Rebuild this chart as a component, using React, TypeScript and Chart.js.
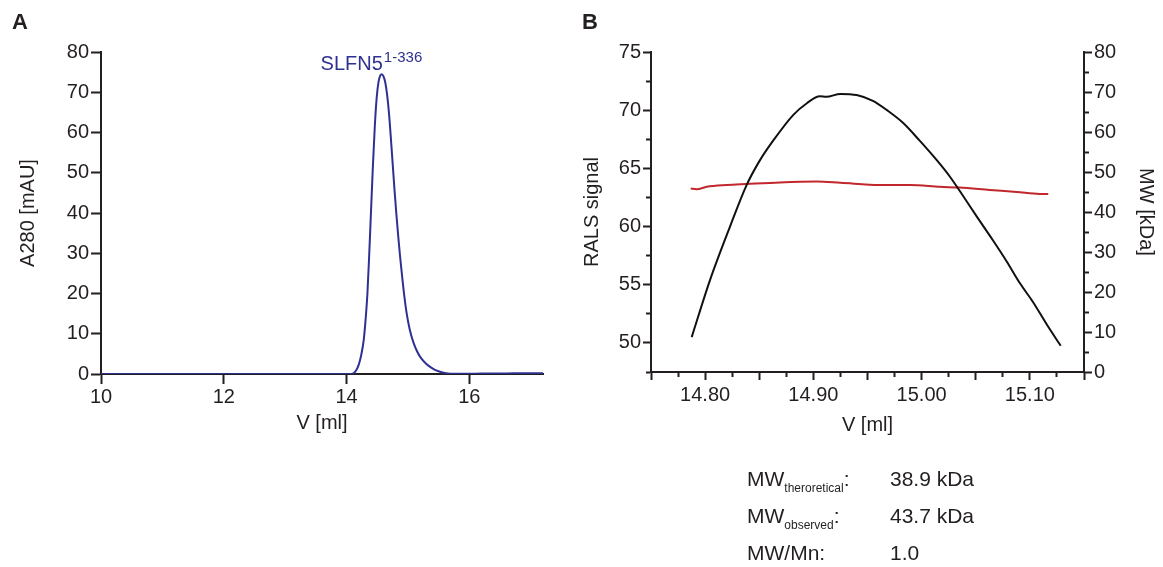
import React, { useEffect, useRef } from 'react';
import { Chart, registerables } from 'chart.js';

Chart.register(...registerables);

// ---------- Panel A: SEC elution profile ----------
const A_VOLUME = [
  10, 11, 12, 13, 13.8, 14.05, 14.1, 14.16, 14.2, 14.24, 14.28, 14.31, 14.34, 14.37, 14.4, 14.43,
  14.46, 14.49, 14.52, 14.55, 14.575, 14.6, 14.63, 14.66, 14.69, 14.72, 14.75, 14.78, 14.81,
  14.84, 14.87, 14.9, 14.94, 14.98, 15.03, 15.09, 15.15, 15.22, 15.3, 15.38, 15.46, 15.55,
  15.65, 15.75, 15.9, 16.2, 16.6, 17.0, 17.2,
];
const A_ABS = [
  0, 0, 0, 0, 0, 0, 0.1, 1.0, 2.4, 4.8, 8.5, 13.5, 20, 30, 41, 52,
  61.5, 68.5, 72.5, 74.2, 74.5, 74, 72.5, 69.5, 65, 59, 52.5, 46, 40,
  34.5, 29.5, 25, 19.5, 15, 11, 7.8, 5.6, 3.8, 2.5, 1.6, 0.9, 0.45,
  0.15, 0.05, 0.05, 0.1, 0.15, 0.2, 0.2,
];
const A_X_TICKS = [10, 12, 14, 16];
const A_Y_TICKS = [0, 10, 20, 30, 40, 50, 60, 70, 80];
const A_PEAK_AT = 14.575;
const A_PEAK_NAME = 'SLFN5';
const A_PEAK_SUP = '1-336';

// ---------- Panel B: SEC-RALS ----------
const B_VOLUME_RALS = [
  14.7876, 14.8045, 14.823, 14.838, 14.85, 14.863, 14.8815, 14.894, 14.906, 14.912, 14.925,
  14.94, 14.955, 14.968, 14.983, 14.998, 15.014, 15.026, 15.0385, 15.051, 15.066, 15.0786,
  15.091, 15.103, 15.1155, 15.1285,
];
const B_RALS = [
  50.5, 55.4, 60.0, 63.5, 65.6, 67.4, 69.6, 70.6, 71.2, 71.15, 71.4,
  71.3, 70.8, 70.0, 68.9, 67.4, 65.7, 64.3, 62.6, 60.85, 58.8, 57.0,
  55.1, 53.5, 51.6, 49.75,
];
const B_VOLUME_MW = [
  14.7867, 14.792, 14.8015, 14.82, 14.838, 14.869, 14.903, 14.925, 14.9615, 14.989, 15.017,
  15.035, 15.063, 15.088, 15.109, 15.117,
];
const B_MW = [
  45.9, 45.7, 46.3, 46.75, 47.0, 47.4, 47.6, 47.3, 46.75, 46.75, 46.3,
  46.1, 45.5, 45.0, 44.5, 44.5,
];
const B_X_TICKS = [
  14.75, 14.775, 14.8, 14.825, 14.85, 14.875, 14.9, 14.925, 14.95, 14.975, 15.0, 15.025,
  15.05, 15.075, 15.1, 15.125, 15.15,
];
const B_X_MAJOR = [14.75, 14.8, 14.85, 14.9, 14.95, 15.0, 15.05, 15.1, 15.15];
const B_X_LABELS = [14.8, 14.9, 15.0, 15.1];
const B_Y_TICKS = [47.5, 50, 52.5, 55, 57.5, 60, 62.5, 65, 67.5, 70, 72.5, 75];
const B_Y_LABELS = [50, 55, 60, 65, 70, 75];
const B_Y2_TICKS = [0, 5, 10, 15, 20, 25, 30, 35, 40, 45, 50, 55, 60, 65, 70, 75, 80];
const B_Y2_LABELS = [0, 10, 20, 30, 40, 50, 60, 70, 80];

const SUMMARY_NAMES = ['MW', 'MW', 'MW/Mn'];
const SUMMARY_SUBS = ['theroretical', 'observed', ''];
const SUMMARY_VALUES = ['38.9 kDa', '43.7 kDa', '1.0'];

// ---------- styles ----------
const FONT = '"Liberation Sans", Arial, Helvetica, sans-serif';
const TEXT = '#231f20';
const AXIS = '#231f20';
const BLUE = '#2e3192';
const RED = '#c1272d';
const BLACK = '#111111';

const has = (arr: number[], v: number) => arr.some((a) => Math.abs(a - v) < 1e-6);
const setTicks = (list: number[]) => (scale: any) => {
  scale.ticks = list.map((value) => ({ value }));
};

const peakLabelPlugin = {
  id: 'peakLabel',
  afterDatasetsDraw(chart: any) {
    const { ctx, scales } = chart;
    const x = scales.x.getPixelForValue(A_PEAK_AT);
    const y = scales.y.getPixelForValue(80);
    ctx.save();
    ctx.fillStyle = BLUE;
    ctx.textBaseline = 'alphabetic';
    ctx.font = `20px ${FONT}`;
    ctx.textAlign = 'right';
    ctx.fillText(A_PEAK_NAME, x + 1, y + 18);
    ctx.font = `15px ${FONT}`;
    ctx.textAlign = 'left';
    ctx.fillText(A_PEAK_SUP, x + 2, y + 10);
    ctx.restore();
  },
};

function useChart(ref: React.RefObject<HTMLCanvasElement | null>, make: (c: HTMLCanvasElement) => Chart) {
  useEffect(() => {
    if (!ref.current) return;
    const chart = make(ref.current);
    return () => chart.destroy();
  }, []);
}

const tickFont = { family: FONT, size: 20 };
const titleFont = { family: FONT, size: 20 };

export default function App() {
  const refA = useRef<HTMLCanvasElement>(null);
  const refB = useRef<HTMLCanvasElement>(null);

  useChart(refA, (c) =>
    new Chart(c, {
      type: 'line',
      data: {
        datasets: [
          {
            data: A_VOLUME.map((x, i) => ({ x, y: A_ABS[i] })),
            borderColor: BLUE,
            borderWidth: 2,
            pointRadius: 0,
            cubicInterpolationMode: 'monotone',
            fill: false,
          },
        ],
      },
      options: {
        animation: false,
        responsive: false,
        maintainAspectRatio: false,
        layout: { padding: { left: 0, top: 52, right: 17, bottom: 132 } },
        plugins: { legend: { display: false }, tooltip: { enabled: false } },
        scales: {
          x: {
            type: 'linear',
            min: 10,
            max: 17.2,
            afterBuildTicks: setTicks(A_X_TICKS),
            afterFit: (s: any) => {
              s.height = 61;
            },
            grid: { display: true, drawOnChartArea: false, tickLength: 10, tickWidth: 2, tickColor: AXIS },
            border: { display: true, color: AXIS, width: 2 },
            ticks: { color: TEXT, font: tickFont, padding: 1, maxRotation: 0, autoSkip: false },
            title: { display: true, text: 'V [ml]', color: TEXT, font: titleFont, padding: 0 },
          },
          y: {
            type: 'linear',
            min: 0,
            max: 80,
            afterBuildTicks: setTicks(A_Y_TICKS),
            afterFit: (s: any) => {
              s.width = 101;
            },
            grid: { display: true, drawOnChartArea: false, tickLength: 10, tickWidth: 2, tickColor: AXIS },
            border: { display: true, color: AXIS, width: 2 },
            ticks: { color: TEXT, font: tickFont, padding: 2, autoSkip: false },
            title: { display: true, text: 'A280 [mAU]', color: TEXT, font: titleFont, padding: { top: 16, bottom: 0 } },
          },
        },
      },
      plugins: [peakLabelPlugin],
    } as any)
  );

  useChart(refB, (c) =>
    new Chart(c, {
      type: 'line',
      data: {
        datasets: [
          {
            data: B_VOLUME_RALS.map((x, i) => ({ x, y: B_RALS[i] })),
            borderColor: BLACK,
            borderWidth: 2,
            pointRadius: 0,
            cubicInterpolationMode: 'monotone',
            yAxisID: 'y',
          },
          {
            data: B_VOLUME_MW.map((x, i) => ({ x, y: B_MW[i] })),
            borderColor: RED,
            borderWidth: 2,
            pointRadius: 0,
            cubicInterpolationMode: 'monotone',
            yAxisID: 'y2',
          },
        ],
      },
      options: {
        animation: false,
        responsive: false,
        maintainAspectRatio: false,
        layout: { padding: { left: 0, top: 52, right: 0, bottom: 130 } },
        plugins: { legend: { display: false }, tooltip: { enabled: false } },
        scales: {
          x: {
            type: 'linear',
            min: 14.75,
            max: 15.15,
            afterBuildTicks: setTicks(B_X_TICKS),
            afterFit: (s: any) => {
              s.height = 65;
            },
            grid: {
              display: true,
              drawOnChartArea: false,
              tickLength: 8,
              tickWidth: 2,
              tickColor: AXIS,
              tickBorderDash: (ctx: any) => (ctx.tick && has(B_X_MAJOR, ctx.tick.value) ? [] : [4, 100]),
            },
            border: { display: true, color: AXIS, width: 2 },
            ticks: {
              color: TEXT,
              font: tickFont,
              padding: 3,
              maxRotation: 0,
              autoSkip: false,
              callback: (v: any) => (has(B_X_LABELS, Number(v)) ? Number(v).toFixed(2) : ''),
            },
            title: { display: true, text: 'V [ml]', color: TEXT, font: titleFont, padding: 0 },
          },
          y: {
            type: 'linear',
            position: 'left',
            min: 47.5,
            max: 75,
            afterBuildTicks: setTicks(B_Y_TICKS),
            afterFit: (s: any) => {
              s.width = 91;
            },
            grid: {
              display: true,
              drawOnChartArea: false,
              tickLength: 8,
              tickWidth: 2,
              tickColor: AXIS,
              tickBorderDash: (ctx: any) => (ctx.tick && has(B_Y_LABELS, ctx.tick.value) ? [] : [0, 3, 4, 100]),
            },
            border: { display: true, color: AXIS, width: 2 },
            ticks: {
              color: TEXT,
              font: tickFont,
              padding: 2,
              autoSkip: false,
              callback: (v: any) => (has(B_Y_LABELS, Number(v)) ? String(v) : ''),
            },
            title: { display: true, text: 'RALS signal', color: TEXT, font: titleFont, padding: { top: 20, bottom: 0 } },
          },
          y2: {
            type: 'linear',
            position: 'right',
            min: 0,
            max: 80,
            afterBuildTicks: setTicks(B_Y2_TICKS),
            afterFit: (s: any) => {
              s.width = 79;
            },
            grid: {
              display: true,
              drawOnChartArea: false,
              tickLength: 8,
              tickWidth: 2,
              tickColor: AXIS,
              tickBorderDash: (ctx: any) => (ctx.tick && has(B_Y2_LABELS, ctx.tick.value) ? [] : [4, 100]),
            },
            border: { display: true, color: AXIS, width: 2 },
            ticks: {
              color: TEXT,
              font: tickFont,
              padding: 2,
              autoSkip: false,
              callback: (v: any) => (has(B_Y2_LABELS, Number(v)) ? String(v) : ''),
            },
            title: { display: true, text: 'MW [kDa]', color: TEXT, font: titleFont, padding: { top: 5, bottom: 0 } },
          },
        },
      },
    } as any)
  );

  const panelLabel = (text: string, left: number): React.ReactNode => (
    <div
      style={{
        position: 'absolute',
        left,
        top: 11,
        fontFamily: FONT,
        fontWeight: 'bold',
        fontSize: 22,
        lineHeight: '22px',
        color: TEXT,
      }}
    >
      {text}
    </div>
  );

  return (
    <div
      style={{
        position: 'absolute',
        left: 0,
        top: 0,
        width: 1163,
        height: 567,
        background: '#ffffff',
        overflow: 'hidden',
      }}
    >
      <canvas
        ref={refA}
        width={560}
        height={567}
        style={{ position: 'absolute', left: 0, top: 0, width: 560, height: 567 }}
      />
      <canvas
        ref={refB}
        width={603}
        height={567}
        style={{ position: 'absolute', left: 560, top: 0, width: 603, height: 567 }}
      />
      {panelLabel('A', 12)}
      {panelLabel('B', 582)}
      <div
        style={{
          position: 'absolute',
          left: 747,
          top: 460,
          fontFamily: FONT,
          fontSize: 21,
          color: TEXT,
        }}
      >
        {SUMMARY_NAMES.map((name, i) => (
          <div key={i} style={{ height: 37, lineHeight: '37px', whiteSpace: 'nowrap' }}>
            <span style={{ display: 'inline-block', width: 143 }}>
              {name}
              {SUMMARY_SUBS[i] ? (
                <span style={{ fontSize: 12, position: 'relative', top: 6 }}>{SUMMARY_SUBS[i]}</span>
              ) : null}
              :
            </span>
            <span>{SUMMARY_VALUES[i]}</span>
          </div>
        ))}
      </div>
    </div>
  );
}
